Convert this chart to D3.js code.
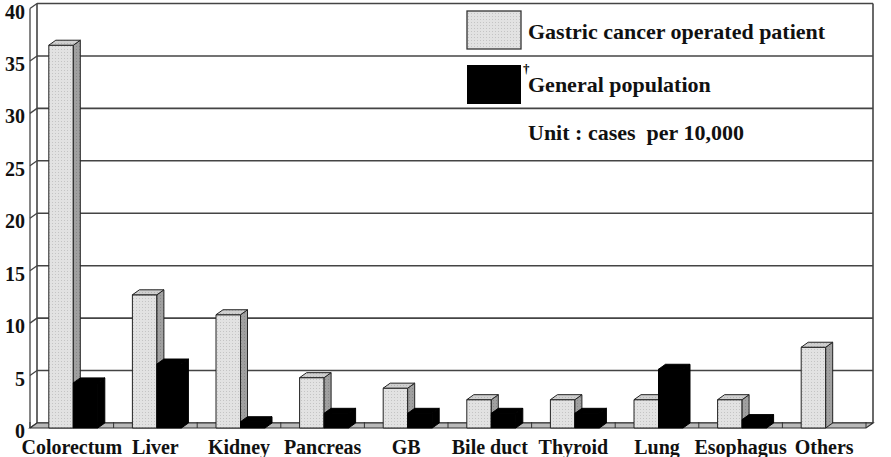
<!DOCTYPE html>
<html>
<head>
<meta charset="utf-8">
<script src="https://cdn.jsdelivr.net/npm/d3@7"></script>
<style>
  body { margin: 0; background: #fff; }
  text { font-family: "Liberation Serif", "Times New Roman", serif; font-weight: bold; }
</style>
</head>
<body>
<div id="chart"></div>
<script>
const categories = ["Colorectum", "Liver", "Kidney", "Pancreas", "GB", "Bile duct", "Thyroid", "Lung", "Esophagus", "Others"];
const gastric = [36.5, 12.7, 10.8, 4.8, 3.8, 2.7, 2.7, 2.7, 2.7, 7.7];
const general = [4.3, 6.1, 0.6, 1.4, 1.4, 1.4, 1.4, 5.6, 0.8, 0];
const seriesNames = ["Gastric cancer operated patient", "General population"];
const yTicks = [0, 5, 10, 15, 20, 25, 30, 35, 40];

const width = 891, height = 457;
const DX = 7, DY = 5; // depth offset of the 3d box

const svg = d3.select("#chart").append("svg")
    .attr("width", width)
    .attr("height", height);

// dotted fill like the old excel pattern
const defs = svg.append("defs");
function dots(id, base, dot) {
    const p = defs.append("pattern")
        .attr("id", id)
        .attr("width", 3).attr("height", 3)
        .attr("patternUnits", "userSpaceOnUse");
    p.append("rect").attr("width", 3).attr("height", 3).attr("fill", base);
    p.append("rect").attr("x", 1).attr("y", 1).attr("width", 1).attr("height", 1).attr("fill", dot);
}
dots("front", "#e2e2e2", "#c4c4c4");
dots("side", "#a0a0a0", "#888");
dots("top", "#cfcfcf", "#b5b5b5");

const x = d3.scaleBand().domain(categories).range([30, 866]);
const xInner = d3.scaleBand().domain(seriesNames).range([0, 49]);
const y = d3.scaleLinear().domain([0, 40]).range([428, 8.5]);
const yBack = v => y(v) - DY;

const grid = "#444";

// back wall gridlines + left wall
const g = svg.append("g");
yTicks.forEach(t => {
    g.append("line")
        .attr("x1", 30 + DX).attr("x2", 866 + DX)
        .attr("y1", yBack(t)).attr("y2", yBack(t))
        .attr("stroke", grid).attr("stroke-width", 1.6);
    g.append("line")
        .attr("x1", 30).attr("x2", 30 + DX)
        .attr("y1", y(t)).attr("y2", yBack(t))
        .attr("stroke", grid).attr("stroke-width", 1.3);
});
g.append("line").attr("x1", 30).attr("x2", 30).attr("y1", y(40)).attr("y2", y(0))
    .attr("stroke", grid).attr("stroke-width", 1.3);
g.append("line").attr("x1", 30 + DX).attr("x2", 30 + DX).attr("y1", yBack(40)).attr("y2", yBack(0))
    .attr("stroke", grid).attr("stroke-width", 1.6);
g.append("line").attr("x1", 866 + DX).attr("x2", 866 + DX).attr("y1", yBack(40)).attr("y2", yBack(0))
    .attr("stroke", grid).attr("stroke-width", 1.6);

// floor
g.append("path")
    .attr("d", `M30,${y(0)}L866,${y(0)}L${866 + DX},${yBack(0)}L${30 + DX},${yBack(0)}Z`)
    .attr("fill", "#b8b8b8").attr("stroke", "#333").attr("stroke-width", 1.2);
d3.range(categories.length + 1).forEach(i => {
    const xx = 30 + i * x.step();
    g.append("line").attr("x1", xx).attr("x2", xx)
        .attr("y1", yBack(0) - 1).attr("y2", y(0))
        .attr("stroke", "#333").attr("stroke-width", 1);
});

// bars, drawn left to right so each one covers its neighbour's side face
const bars = [];
categories.forEach((c, i) => {
    bars.push({ cat: c, key: seriesNames[0], value: gastric[i] });
    bars.push({ cat: c, key: seriesNames[1], value: general[i] });
});
const bw = xInner.bandwidth();
const off = (x.bandwidth() - 49) / 2 + 1.5;

const barG = svg.append("g");
bars.filter(d => d.value > 0).forEach(d => {
    const x0 = x(d.cat) + off + xInner(d.key);
    const x1 = x0 + bw;
    const y0 = y(0), y1 = y(d.value);
    const light = d.key === seriesNames[0];
    const stroke = light ? "#222" : "#000";
    const b = barG.append("g");
    b.append("path")
        .attr("d", `M${x0},${y0}L${x0},${y1}L${x1},${y1}L${x1},${y0}Z`)
        .attr("fill", light ? "url(#front)" : "#000").attr("stroke", stroke).attr("stroke-width", 1);
    b.append("path")
        .attr("d", `M${x1},${y0}L${x1},${y1}L${x1 + DX},${y1 - DY}L${x1 + DX},${y0 - DY}Z`)
        .attr("fill", light ? "url(#side)" : "#000").attr("stroke", stroke).attr("stroke-width", 1);
    b.append("path")
        .attr("d", `M${x0},${y1}L${x0 + DX},${y1 - DY}L${x1 + DX},${y1 - DY}L${x1},${y1}Z`)
        .attr("fill", light ? "url(#top)" : "#000").attr("stroke", stroke).attr("stroke-width", 1);
});

// y axis labels
const yAxis = d3.axisLeft(y).tickValues(yTicks).tickSize(0).tickPadding(5);
svg.append("g")
    .attr("transform", "translate(30,0)")
    .call(yAxis)
    .call(s => s.select(".domain").remove())
    .selectAll("text")
    .attr("dy", "0.48em")
    .style("font-size", "20px")
    .style("fill", "#111");

// category labels
const xAxis = d3.axisBottom(x).tickSize(0).tickPadding(12);
svg.append("g")
    .attr("transform", `translate(0,${y(0)})`)
    .call(xAxis)
    .call(s => s.select(".domain").remove())
    .selectAll("text")
    .style("font-size", "20px")
    .style("fill", "#111");
svg.selectAll(".tick text").style("font-family", "'Liberation Serif', 'Times New Roman', serif");

// legend
const leg = svg.append("g").attr("transform", "translate(467,0)");
leg.append("rect").attr("x", 0).attr("y", 11).attr("width", 54).attr("height", 38)
    .attr("fill", "url(#front)").attr("stroke", "#333").attr("stroke-width", 1.3);
leg.append("rect").attr("x", 0).attr("y", 65).attr("width", 54).attr("height", 39)
    .attr("fill", "#000");
leg.append("text").attr("x", 61).attr("y", 39).style("font-size", "22px").attr("fill", "#111")
    .text(seriesNames[0]);
leg.append("text").attr("x", 56).attr("y", 73).style("font-size", "13px").attr("fill", "#000")
    .text("\u2020");
leg.append("text").attr("x", 61).attr("y", 92).style("font-size", "22px").attr("fill", "#111")
    .text(seriesNames[1]);
leg.append("text").attr("x", 61).attr("y", 140).style("font-size", "22px").attr("fill", "#111")
    .attr("xml:space", "preserve")
    .text("Unit : cases  per 10,000");
</script>
</body>
</html>
